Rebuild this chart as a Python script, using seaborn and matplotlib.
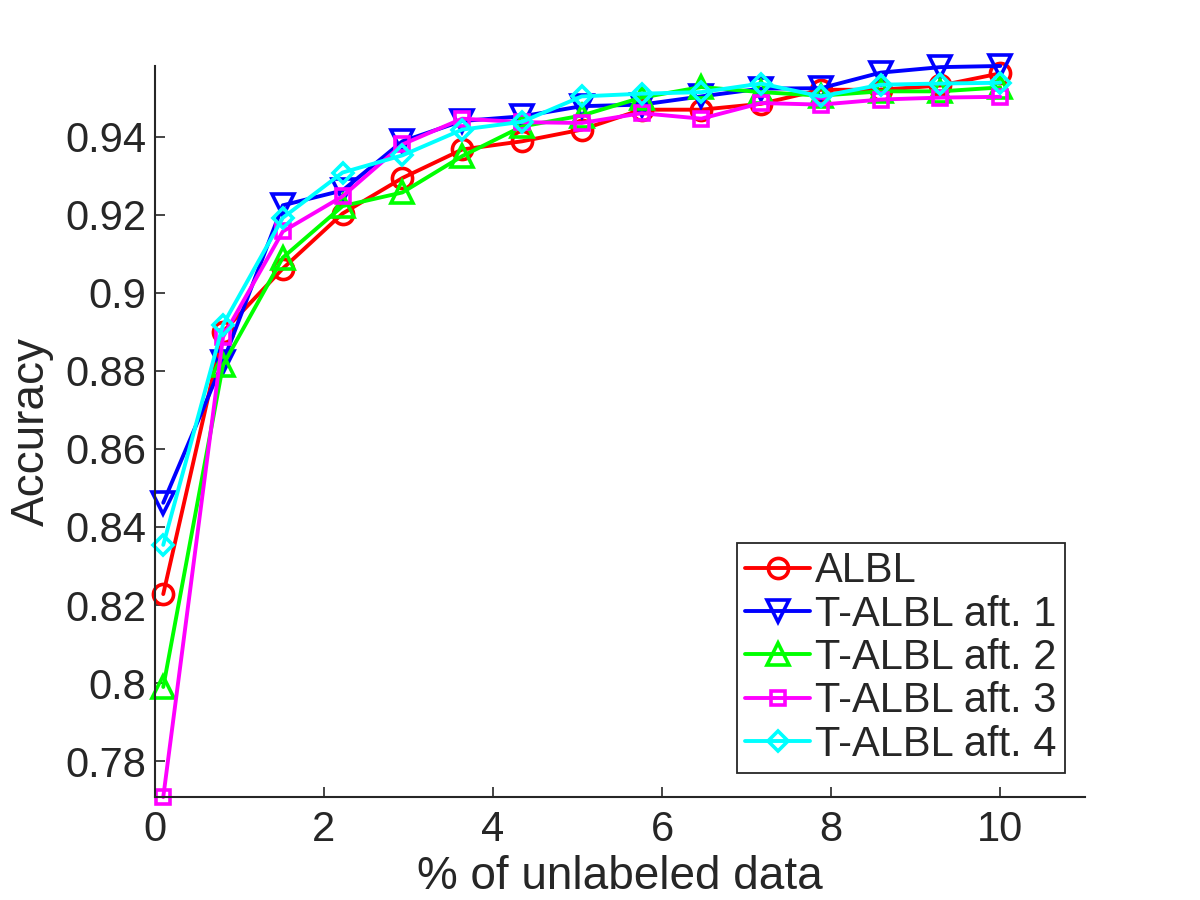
import pandas as pd
import matplotlib
matplotlib.use("Agg")
import matplotlib.pyplot as plt
import seaborn as sns

# values
pct_unlabeled = [0.1, 0.807, 1.514, 2.221, 2.929, 3.636, 4.343, 5.05,
                 5.757, 6.464, 7.171, 7.879, 8.586, 9.293, 10.0]
albl = [0.8228, 0.8900, 0.9062, 0.9203, 0.9294, 0.9367, 0.9388, 0.9418,
        0.9469, 0.9469, 0.9484, 0.9520, 0.9520, 0.9531, 0.9562]
aft1 = [0.8462, 0.8823, 0.9224, 0.9262, 0.9388, 0.9440, 0.9452, 0.9478,
        0.9482, 0.9503, 0.9523, 0.9524, 0.9564, 0.9578, 0.9581]
aft2 = [0.7990, 0.8815, 0.9090, 0.9222, 0.9257, 0.9350, 0.9426, 0.9454,
        0.9500, 0.9527, 0.9514, 0.9505, 0.9516, 0.9516, 0.9526]
aft3 = [0.7708, 0.8887, 0.9157, 0.9247, 0.9380, 0.9446, 0.9437, 0.9435,
        0.9460, 0.9446, 0.9486, 0.9482, 0.9495, 0.9500, 0.9502]
aft4 = [0.8354, 0.8918, 0.9192, 0.9308, 0.9352, 0.9418, 0.9438, 0.9503,
        0.9510, 0.9514, 0.9536, 0.9503, 0.9533, 0.9536, 0.9538]

names = ["ALBL", "T-ALBL aft. 1", "T-ALBL aft. 2", "T-ALBL aft. 3", "T-ALBL aft. 4"]
series = [albl, aft1, aft2, aft3, aft4]
colors = ["#ff0000", "#0000ff", "#00ff00", "#ff00ff", "#00ffff"]
markers = ["o", "v", "^", "s", "D"]
msizes = [14.5, 15.5, 15.5, 10, 10]

sns.set_style("ticks")
plt.rcParams["font.family"] = ["Liberation Sans", "DejaVu Sans"]
ink = "#262626"

fig = plt.figure(figsize=(12, 9), dpi=100)
ax = fig.add_axes([0.129, 0.1144, 0.775, 0.8123])

for name, vals, c, m, ms in zip(names, series, colors, markers, msizes):
    df = pd.DataFrame({"pct": pct_unlabeled, "acc": vals})
    sns.lineplot(data=df, x="pct", y="acc", ax=ax, color=c, marker=m,
                 markersize=ms, markerfacecolor="none", markeredgecolor=c,
                 markeredgewidth=2.6, linewidth=2.8, label=name, clip_on=False,
                 legend=False)

ax.set_xlim(0, 11)
ax.set_ylim(0.7708, 0.9581)
ax.set_xticks([0, 2, 4, 6, 8, 10])
ax.set_yticks([0.78, 0.8, 0.82, 0.84, 0.86, 0.88, 0.9, 0.92, 0.94])
ax.set_yticklabels(["0.78", "0.8", "0.82", "0.84", "0.86", "0.88", "0.9", "0.92", "0.94"])

ax.tick_params(direction="in", length=7, width=1.2, colors=ink,
               labelsize=30, pad=6)
ax.tick_params(axis="x", pad=9)
for side in ["top", "right"]:
    ax.spines[side].set_visible(False)
for side in ["left", "bottom"]:
    ax.spines[side].set_color(ink)
    ax.spines[side].set_linewidth(1.5)

ax.set_xlabel("% of unlabeled data", fontsize=33, color=ink, labelpad=4)
ax.set_ylabel("Accuracy", fontsize=33, color=ink, labelpad=8)

leg = ax.legend(loc="lower right", bbox_to_anchor=(0.9785, 0.0328),
                borderaxespad=0, fontsize=30, frameon=True, fancybox=False,
                framealpha=1, edgecolor=ink, handlelength=1.55,
                handletextpad=0.12, labelspacing=0.08, borderpad=0.2)
leg.get_frame().set_linewidth(1.3)

fig.savefig("out.png", dpi=100)
